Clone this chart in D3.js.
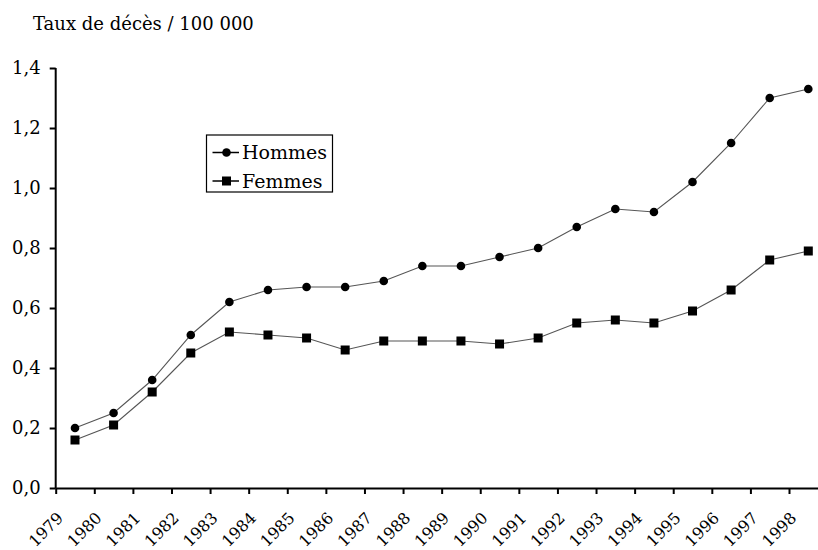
<!DOCTYPE html>
<html>
<head>
<meta charset="utf-8">
<script src="https://cdn.jsdelivr.net/npm/d3@7/dist/d3.min.js"></script>
<style>
  html, body { margin: 0; padding: 0; background: #fff; }
  svg { display: block; }
  text { font-family: "DejaVu Serif", serif; fill: #000; }
</style>
</head>
<body>
<svg id="chart" width="818" height="550"></svg>
<script>
const years = d3.range(1979, 1999);
const hommes = [0.20, 0.25, 0.36, 0.51, 0.62, 0.66, 0.67, 0.67, 0.69, 0.74, 0.74, 0.77, 0.80, 0.87, 0.93, 0.92, 1.02, 1.15, 1.30, 1.33];
const femmes = [0.16, 0.21, 0.32, 0.45, 0.52, 0.51, 0.50, 0.46, 0.49, 0.49, 0.49, 0.48, 0.50, 0.55, 0.56, 0.55, 0.59, 0.66, 0.76, 0.79];
const yTicks = [0, 0.2, 0.4, 0.6, 0.8, 1.0, 1.2, 1.4];
const title = "Taux de décès / 100 000";
const seriesNames = ["Hommes", "Femmes"];

const svg = d3.select("#chart");
const x = d3.scaleLinear().domain([1979, 1999]).range([55.7, 827.6]);
const y = d3.scaleLinear().domain([0, 1.4]).range([488, 68]);
const fmt = v => d3.format(".1f")(v).replace(".", ",");

// title
svg.append("text").attr("x", 33).attr("y", 30).style("font-size", "18px").text(title);

// y axis
const yAxis = svg.append("g").attr("transform", "translate(55.7,0)")
  .call(d3.axisLeft(y).tickValues(yTicks).tickFormat(fmt).tickSize(6).tickPadding(9));
yAxis.select(".domain").attr("stroke", "#000").attr("stroke-width", 2).attr("d", `M0,${y(1.4)}V${y(0)}`);
yAxis.selectAll(".tick line").attr("stroke", "#000").attr("stroke-width", 2);
yAxis.selectAll(".tick text").style("font-size", "18px").style("font-family", "DejaVu Serif, serif").attr("fill", "#000");

// x axis
const xAxis = svg.append("g").attr("transform", `translate(0,${y(0)})`)
  .call(d3.axisBottom(x).tickValues(years.concat([1999]))
    .tickFormat(d => d < 1999 ? d3.format("d")(d) : "").tickSize(6).tickSizeOuter(0));
xAxis.select(".domain").attr("stroke", "#000").attr("stroke-width", 2);
xAxis.selectAll(".tick line").attr("stroke", "#000").attr("stroke-width", 2);
xAxis.selectAll(".tick text")
  .style("font-size", "16px").style("font-family", "DejaVu Serif, serif").attr("fill", "#000")
  .attr("text-anchor", "end")
  .attr("dy", null).attr("y", 0)
  .attr("transform", "translate(8,31) rotate(-45)");

// lines
const line = d3.line().x((d, i) => x(years[i] + 0.5)).y(d => y(d));
[hommes, femmes].forEach(s => {
  svg.append("path").datum(s).attr("d", line).attr("fill", "none").attr("stroke", "#555").attr("stroke-width", 1.1);
});

// markers
svg.append("g").selectAll("circle").data(hommes).join("circle")
  .attr("cx", (d, i) => x(years[i] + 0.5)).attr("cy", d => y(d)).attr("r", 4.3).attr("fill", "#000");
const sq = 9;
svg.append("g").selectAll("rect").data(femmes).join("rect")
  .attr("x", (d, i) => x(years[i] + 0.5) - sq / 2).attr("y", d => y(d) - sq / 2)
  .attr("width", sq).attr("height", sq).attr("fill", "#000");

// legend
const lg = svg.append("g");
lg.append("rect").attr("x", 206.5).attr("y", 135).attr("width", 126).attr("height", 57)
  .attr("fill", "#fff").attr("stroke", "#000").attr("stroke-width", 1.2);
const rows = [152.5, 181];
seriesNames.forEach((n, i) => {
  const ry = rows[i];
  lg.append("line").attr("x1", 212.5).attr("x2", 239).attr("y1", ry).attr("y2", ry).attr("stroke", "#000").attr("stroke-width", 1.5);
  if (i === 0) lg.append("circle").attr("cx", 226.5).attr("cy", ry).attr("r", 4.3).attr("fill", "#000");
  else lg.append("rect").attr("x", 226.5 - sq / 2).attr("y", ry - sq / 2).attr("width", sq).attr("height", sq).attr("fill", "#000");
  lg.append("text").attr("x", 242).attr("y", ry + 6.5).style("font-size", "19px").text(n);
});
</script>
</body>
</html>
